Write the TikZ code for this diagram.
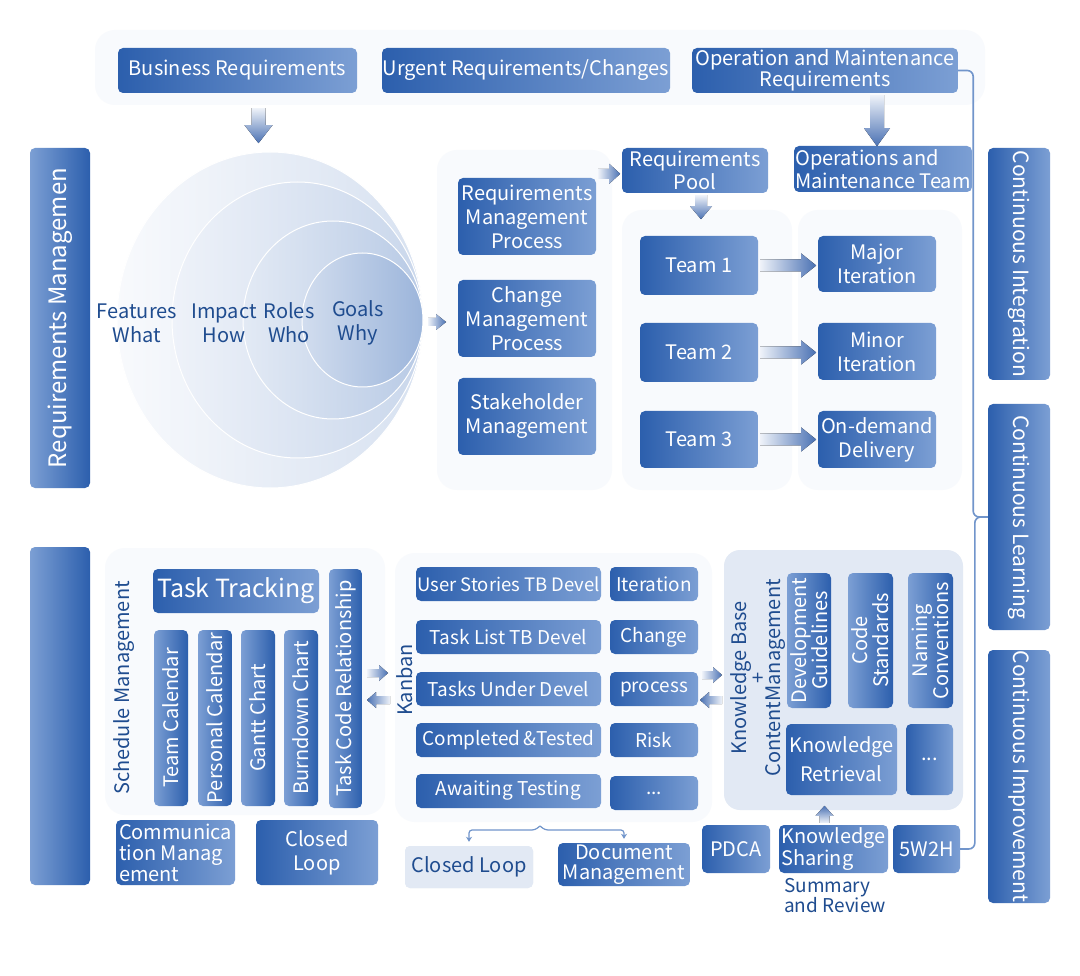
\documentclass[tikz,border=0pt]{standalone}
\usepackage{fontspec}
\setmainfont{Noto Sans CJK SC}
\usetikzlibrary{calc,arrows.meta}
\definecolor{bd}{HTML}{2C5FAD}
\definecolor{bl}{HTML}{7C9FD4}
\definecolor{tx}{HTML}{1F4C8F}
\definecolor{pn}{HTML}{F8FAFD}
\definecolor{kbf}{HTML}{E2E9F4}
\definecolor{ln}{HTML}{7195CB}
\definecolor{al}{HTML}{EEF2F9}
\definecolor{ad}{HTML}{4A71B3}
\tikzset{
 box/.style={rounded corners=5pt, left color=bd, right color=bl, text=white, align=center, inner sep=0pt, font=\fontsize{20}{24}\selectfont},
 pnl/.style={rounded corners=20pt, fill=pn},
 lbl/.style={text=tx, align=center, inner sep=0pt, font=\fontsize{20}{24}\selectfont},
 conn/.style={draw=ln, line width=1.6pt},
}
\newcommand\B[7][]{\node[box,minimum width={#5-#3},minimum height={#6-#4},#1] (#2) at ({(#3+#5)/2},{(#4+#6)/2}) {#7};}
\newcommand\V[7][]{\node[box,left color=bl,right color=bd,rotate=90,minimum width={#6-#4},minimum height={#5-#3},#1] (#2) at ({(#3+#5)/2},{(#4+#6)/2}) {#7};}
\newcommand\W[7][]{\node[box,left color=bd,right color=bl,rotate=-90,minimum width={#6-#4},minimum height={#5-#3},#1] (#2) at ({(#3+#5)/2},{(#4+#6)/2}) {#7};}
\newcommand\arrR[5]{\begin{scope}[shift={#1}]\fill[left color=al,right color=ad] (0,-#3) -- ({#2-#5},-#3) -- ({#2-#5},-#4) -- (#2,0) -- ({#2-#5},#4) -- ({#2-#5},#3) -- (0,#3) -- cycle;\end{scope}}
\newcommand\arrL[5]{\begin{scope}[shift={#1}]\fill[right color=al,left color=ad] (0,-#3) -- ({-#2+#5},-#3) -- ({-#2+#5},-#4) -- (-#2,0) -- ({-#2+#5},#4) -- ({-#2+#5},#3) -- (0,#3) -- cycle;\end{scope}}
\newcommand\arrD[5]{\begin{scope}[shift={#1}]\fill[top color=al,bottom color=ad] (-#3,0) -- (-#3,{#2-#5}) -- (-#4,{#2-#5}) -- (0,#2) -- (#4,{#2-#5}) -- (#3,{#2-#5}) -- (#3,0) -- cycle;\end{scope}}
\newcommand\arrU[5]{\begin{scope}[shift={#1}]\fill[bottom color=al,top color=ad] (-#3,0) -- (-#3,{-#2+#5}) -- (-#4,{-#2+#5}) -- (0,-#2) -- (#4,{-#2+#5}) -- (#3,{-#2+#5}) -- (#3,0) -- cycle;\end{scope}}
\begin{document}
\begin{tikzpicture}[x=1pt,y=-1pt]
\useasboundingbox (0,0) rectangle (1080,976);
\fill[white] (0,0) rectangle (1080,976);
% panels
\fill[pnl] (95,30) rectangle (985,105);
\fill[pnl] (437,150) rectangle (612,490);
\fill[pnl] (622,210) rectangle (792,490);
\fill[pnl] (798,210) rectangle (962,490);
\fill[pnl] (105,548) rectangle (385,815);
\fill[pnl] (395,553) rectangle (712,822);
\fill[kbf,rounded corners=16pt] (724,550) rectangle (963,810);
% circles
\shade[left color=white!60!al, right color=ln!28!white, draw=white, line width=1pt] (270,320) ellipse [x radius=153pt, y radius=168pt];
\shade[left color=al, right color=ln!38!white, draw=white, line width=1pt] (297.5,320) ellipse [x radius=125.5pt, y radius=138pt];
\shade[left color=ln!20!white, right color=ln!50!white, draw=white, line width=1pt] (333,320) ellipse [x radius=90pt, y radius=99pt];
\shade[left color=ln!32!white, right color=ln!70!white, draw=white, line width=1pt] (362.5,320) ellipse [x radius=60.5pt, y radius=67pt];
\node[lbl] (c1) at (137,323) {Features\\What};
\node[lbl] (c2) at (224,323) {Impact\\How};
\node[lbl] (c3) at (289,323) {Roles\\Who};
\node[lbl] (c4) at (358,323) {Goals\\Why};
% top
\B{br}{118}{48}{357}{93}{Business Requirements}
\B{ur}{382}{48}{670}{93}{Urgent Requirements/Changes}
\B[font=\fontsize{20}{20}\selectfont]{omr}{692}{48}{958}{93}{Operation and Maintenance\\Requirements}
\B[align=left,font=\fontsize{20}{23}\selectfont]{omt}{794}{146}{972}{192}{Operations and\\Maintenance Team}
% left bars
\V[font=\fontsize{24}{28}\selectfont]{rm}{30}{148}{90}{488}{Requirements Managemen}
\V{lb}{30}{547}{90}{885}{}
% middle
\B{rmp}{458}{178}{596}{255}{Requirements\\Management\\Process}
\B{cmp}{458}{280}{596}{357}{Change\\Management\\Process}
\B{skm}{458}{378}{596}{455}{Stakeholder\\Management}
\B[font=\fontsize{20}{23}\selectfont]{pool}{622}{148}{768}{193}{Requirements\\Pool}
\B{t1}{640}{236}{758}{295}{Team 1}
\B{t2}{640}{323}{758}{382}{Team 2}
\B{t3}{640}{411}{758}{468}{Team 3}
\B{mi1}{818}{236}{936}{292}{Major\\Iteration}
\B{mi2}{818}{323}{936}{380}{Minor\\Iteration}
\B{od}{818}{411}{936}{468}{On-demand\\Delivery}
% right bars
\W[font=\fontsize{21}{24}\selectfont]{ci}{988}{148}{1050}{380}{Continuous Integration}
\W[font=\fontsize{21}{24}\selectfont]{cl}{988}{404}{1050}{630}{Continuous Learning}
\W[font=\fontsize{21}{24}\selectfont]{cim}{988}{650}{1050}{903}{Continuous Improvement}
% schedule
\node[lbl,rotate=90] (sm) at (124,688) {Schedule Management};
\B[font=\fontsize{25}{28}\selectfont]{tt}{153}{569}{319}{613}{Task Tracking}
\V{tc}{154}{630}{188}{806}{Team Calendar}
\V{pc}{198}{630}{232}{806}{Personal Calendar}
\V{gc}{241}{630}{275}{806}{Gantt Chart}
\V{bc}{284}{630}{318}{806}{Burndown Chart}
\V{tcr}{329}{569}{362}{808}{Task Code Relationship}
\B[align=left,font=\fontsize{20}{21}\selectfont]{com}{116}{820}{235}{885}{Communica\\tion Manag\\ement}
\B{clp}{256}{820}{378}{885}{Closed\\Loop}
% kanban
\node[lbl,rotate=90] (kb) at (405,680) {Kanban};
\B[font=\fontsize{18.5}{22}\selectfont]{k1}{416}{567}{601}{601}{User Stories TB Devel}
\B[font=\fontsize{19}{22}\selectfont]{k2}{416}{620}{601}{654}{Task List TB Devel}
\B[font=\fontsize{19}{22}\selectfont]{k3}{416}{672}{601}{706}{Tasks Under Devel}
\B[font=\fontsize{19}{22}\selectfont]{k4}{416}{723}{601}{757}{Completed\,\&Tested}
\B[font=\fontsize{19}{22}\selectfont]{k5}{416}{774}{601}{808}{Awaiting Testing}
\B[font=\fontsize{19}{22}\selectfont]{r1}{610}{567}{698}{601}{Iteration}
\B[font=\fontsize{19}{22}\selectfont]{r2}{610}{620}{698}{654}{Change}
\B[font=\fontsize{19}{22}\selectfont]{r3}{610}{672}{698}{706}{process}
\B[font=\fontsize{19}{22}\selectfont]{r4}{610}{723}{698}{757}{Risk}
\B[font=\fontsize{19}{22}\selectfont]{r5}{610}{776}{698}{810}{...}
\B[fill=kbf,shading=,left color=kbf,right color=kbf,text=tx]{cl2}{405}{846}{533}{888}{Closed Loop}
\B[font=\fontsize{20}{20}\selectfont]{dm}{558}{843}{690}{886}{Document\\Management}
% knowledge base
\node[lbl,rotate=90,font=\fontsize{20}{15}\selectfont] (kbl) at (758,678) {Knowledge Base\\+\\ContentManagement};
\V[font=\fontsize{20}{21}\selectfont]{dg}{787}{573}{831}{708}{Development\\Guidelines}
\V[font=\fontsize{20}{21}\selectfont]{cs}{848}{573}{893}{708}{Code\\Standards}
\V[font=\fontsize{20}{21}\selectfont]{nc}{908}{573}{953}{708}{Naming\\Conventions}
\B[font=\fontsize{20}{29}\selectfont]{kr}{786}{724}{897}{795}{Knowledge\\Retrieval}
\B{dots}{906}{724}{953}{795}{...}
\B{pdca}{702}{825}{770}{873}{PDCA}
\B[align=left,font=\fontsize{20}{20}\selectfont]{ks}{779}{825}{888}{873}{Knowledge\\Sharing}
\B{w2h}{893}{825}{960}{873}{5W2H}
\node[lbl,align=left,anchor=north west,font=\fontsize{19}{20}\selectfont] (sr) at (784,878) {Summary\\and Review};
% fat arrows
\arrD{($(br.south)+(21,15)$)}{35}{7}{14}{18}
\arrD{($(omr.south)+(52,2)$)}{51}{7}{13}{18}
\arrR{(428,322)}{18}{4}{8}{10}
\arrR{($(rmp.north east)+(2,-4)$)}{22}{5}{10}{11}
\arrD{($(pool.south)+(6,2)$)}{24}{6}{11}{13}
\arrR{($(t1.east)+(2,0)$)}{56}{6}{12}{15}
\arrR{($(t2.east)+(2,0)$)}{56}{6}{12}{15}
\arrR{($(t3.east)+(2,0)$)}{56}{6}{12}{15}
\arrR{(367,673)}{21}{4}{8}{9}
\arrL{(390,700)}{23}{4}{8}{9}
\arrR{(702,675)}{20}{4}{8}{9}
\arrL{(722,700)}{22}{4}{8}{9}
\arrU{($(ks.north)+(-9,-2)$)}{17}{5}{9}{10}
% connectors
\draw[conn,rounded corners=6pt] (omr.east) -- ++(15,0) |- (cl.south);
\draw[conn,rounded corners=6pt] (cl.south) -- ++(-13,0) |- (w2h.east);
\coordinate (brc) at (540,826);
\draw[conn,line width=1.2pt,-{Stealth[length=5pt,width=6pt]},rounded corners=3pt,shorten >=4pt] (brc) -- ++(-5,4) -| (cl2.north);
\draw[conn,line width=1.2pt,-{Stealth[length=5pt,width=6pt]},rounded corners=3pt,shorten >=4pt] (brc) -- ++(5,4) -| (dm.north);
\end{tikzpicture}
\end{document}
